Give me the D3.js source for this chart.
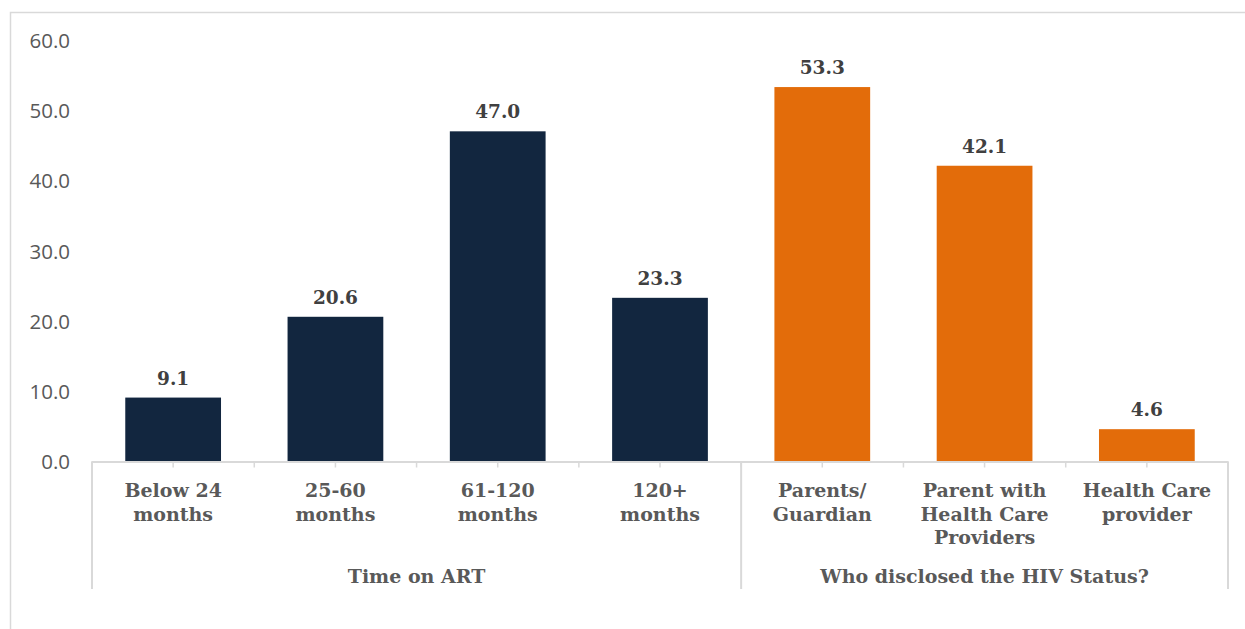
<!DOCTYPE html>
<html>
<head>
<meta charset="utf-8">
<script src="https://cdn.jsdelivr.net/npm/d3@7"></script>
<style>
  html, body { margin: 0; padding: 0; background: #fff; }
  svg { display: block; }
</style>
</head>
<body>
<svg id="chart" width="1245" height="629"></svg>
<script>
// Category labels (line-broken as displayed) and their groups
const categories = [
  ["Below 24", "months"],
  ["25-60", "months"],
  ["61-120", "months"],
  ["120+", "months"],
  ["Parents/", "Guardian"],
  ["Parent with", "Health Care", "Providers"],
  ["Health Care", "provider"]
];
const groupOf = [0, 0, 0, 0, 1, 1, 1];
const groups = ["Time on ART", "Who disclosed the HIV Status?"];
const values = [9.1, 20.6, 47.0, 23.3, 53.3, 42.1, 4.6];
const groupColors = ["#12263f", "#e36c0a"];
const yTicks = [0, 10, 20, 30, 40, 50, 60];

const svg = d3.select("#chart");
const plotLeft = 92, plotRight = 1228, plotTop = 40, plotBottom = 461.5;

const x = d3.scaleBand()
  .domain(d3.range(categories.length))
  .range([plotLeft, plotRight])
  .paddingInner(0.41)
  .paddingOuter(0.205);
const step = (plotRight - plotLeft) / categories.length;

const y = d3.scaleLinear().domain([0, 60]).range([plotBottom, plotTop]);

const gridColor = "#d9d9d9";
const labelColor = "#595959";
const serif = "'DejaVu Serif', Georgia, serif";

// Outer chart frame
svg.append("path")
  .attr("d", "M10.5,629 V12.5 H1245")
  .attr("fill", "none")
  .attr("stroke", gridColor)
  .attr("stroke-width", 1.5);

// Y axis labels (no axis line)
const yAxis = d3.axisLeft(y)
  .tickValues(yTicks)
  .tickFormat(d3.format(".1f"))
  .tickSize(0)
  .tickPadding(0);
const yg = svg.append("g")
  .attr("transform", "translate(70,0)")
  .call(yAxis);
yg.select(".domain").remove();
yg.selectAll("text")
  .attr("font-family", "'Open Sans', sans-serif")
  .attr("font-size", 20.5)
  .attr("fill", labelColor)
  .attr("dy", "0.36em");

// Bars
svg.selectAll("rect.bar")
  .data(values)
  .join("rect")
  .attr("class", "bar")
  .attr("x", (d, i) => x(i))
  .attr("width", x.bandwidth())
  .attr("y", d => y(d))
  .attr("height", d => y(0) - y(d))
  .attr("fill", (d, i) => groupColors[groupOf[i]]);

// Value labels
svg.selectAll("text.val")
  .data(values)
  .join("text")
  .attr("class", "val")
  .attr("x", (d, i) => x(i) + x.bandwidth() / 2)
  .attr("y", d => y(d) - 13)
  .attr("text-anchor", "middle")
  .attr("font-family", serif)
  .attr("font-weight", "bold")
  .attr("font-size", 18.5)
  .attr("fill", "#404040")
  .text(d => d3.format(".1f")(d));

// X axis line
svg.append("line")
  .attr("x1", plotLeft).attr("x2", plotRight)
  .attr("y1", plotBottom + 0.5).attr("y2", plotBottom + 0.5)
  .attr("stroke", gridColor).attr("stroke-width", 2);

// Small tick marks at category centres and boundaries
const tickXs = [];
for (let i = 0; i <= categories.length; i++) tickXs.push(plotLeft + i * step);
for (let i = 0; i < categories.length; i++) tickXs.push(plotLeft + (i + 0.5) * step);
svg.selectAll("line.tick")
  .data(tickXs)
  .join("line")
  .attr("class", "tick")
  .attr("x1", d => d).attr("x2", d => d)
  .attr("y1", plotBottom).attr("y2", plotBottom + 6)
  .attr("stroke", gridColor).attr("stroke-width", 1.5);

// Group separator lines
const groupBounds = [0, 4, 7];
svg.selectAll("line.sep")
  .data(groupBounds)
  .join("line")
  .attr("class", "sep")
  .attr("x1", d => plotLeft + d * step).attr("x2", d => plotLeft + d * step)
  .attr("y1", plotBottom).attr("y2", 589)
  .attr("stroke", gridColor).attr("stroke-width", 2);

// Category labels
const catG = svg.selectAll("text.cat")
  .data(categories)
  .join("text")
  .attr("class", "cat")
  .attr("text-anchor", "middle")
  .attr("font-family", serif)
  .attr("font-weight", "bold")
  .attr("font-size", 19)
  .attr("fill", labelColor);
catG.each(function(lines, i) {
  d3.select(this).selectAll("tspan")
    .data(lines)
    .join("tspan")
    .attr("x", x(i) + x.bandwidth() / 2)
    .attr("y", (d, j) => 497 + j * 23.5)
    .text(d => d);
});

// Group labels
svg.selectAll("text.grp")
  .data(groups)
  .join("text")
  .attr("class", "grp")
  .attr("x", (d, i) => plotLeft + (groupBounds[i] + groupBounds[i + 1]) / 2 * step)
  .attr("y", 583)
  .attr("text-anchor", "middle")
  .attr("font-family", serif)
  .attr("font-weight", "bold")
  .attr("font-size", 19)
  .attr("fill", labelColor)
  .text(d => d);
</script>
</body>
</html>
